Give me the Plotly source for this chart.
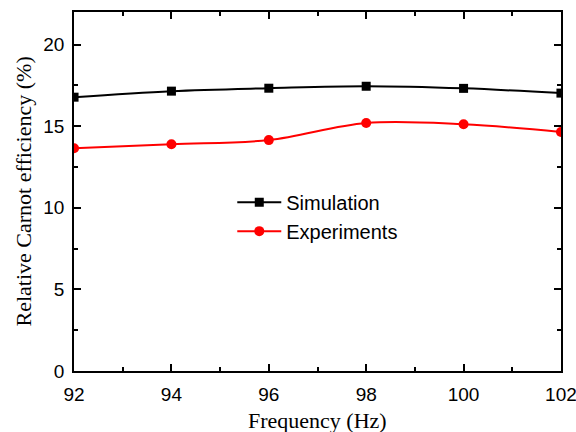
import plotly.graph_objects as go

freq = [92, 94, 96, 98, 100, 102]
simulation = [16.78, 17.15, 17.33, 17.45, 17.32, 17.03]
experiments = [13.65, 13.9, 14.15, 15.2, 15.12, 14.65]

fig = go.Figure()
fig.add_trace(go.Scatter(x=freq, y=simulation, name="Simulation", mode="lines+markers",
                         line=dict(color="black", width=2, shape="spline", smoothing=1),
                         marker=dict(symbol="square", size=9, color="black")))
fig.add_trace(go.Scatter(x=freq, y=experiments, name="Experiments", mode="lines+markers",
                         line=dict(color="#ff0000", width=2, shape="spline", smoothing=1),
                         marker=dict(symbol="circle", size=10, color="#ff0000")))

axis_common = dict(showline=True, linecolor="black", linewidth=1.5, mirror="ticks",
                   ticks="inside", ticklen=7, tickwidth=1.5, tickcolor="black",
                   showgrid=False, zeroline=False, automargin=False,
                   ticklabeloverflow="allow",
                   tickfont=dict(family="Liberation Sans, Arial", size=19, color="black"),
                   minor=dict(ticks="inside", ticklen=4, tickwidth=1.5, tickcolor="black"))

fig.update_xaxes(range=[91.999, 102.001], tickvals=[92, 94, 96, 98, 100, 102],
                 ticklabelstandoff=5, **axis_common)
fig.update_yaxes(range=[0, 22], tickvals=[0, 5, 10, 15, 20],
                 ticklabelstandoff=4, **axis_common)
fig.update_xaxes(minor=dict(tickvals=[93, 95, 97, 99, 101]))
fig.update_yaxes(minor=dict(tickvals=[2.5, 7.5, 12.5, 17.5]))

title_font = dict(family="Liberation Serif, Times New Roman", size=22, color="black")
fig.add_annotation(text="Frequency (Hz)", xref="paper", yref="paper", x=0.5, y=-0.1365,
                   xanchor="center", yanchor="middle", showarrow=False, font=title_font)
fig.add_annotation(text="Relative Carnot efficiency (%)", xref="paper", yref="paper",
                   x=-0.1027, y=0.5, xanchor="center", yanchor="middle", textangle=-90,
                   showarrow=False, font=title_font)

fig.update_layout(width=576, height=432, margin=dict(l=74, r=15, t=12, b=61),
                  paper_bgcolor="white", plot_bgcolor="white",
                  legend=dict(x=0.325, y=0.43, xanchor="left", yanchor="middle",
                              bgcolor="rgba(0,0,0,0)",
                              font=dict(family="Liberation Sans, Arial", size=20, color="black"),
                              itemwidth=44, tracegroupgap=0),
                  showlegend=True)

fig.write_html("out.html")
